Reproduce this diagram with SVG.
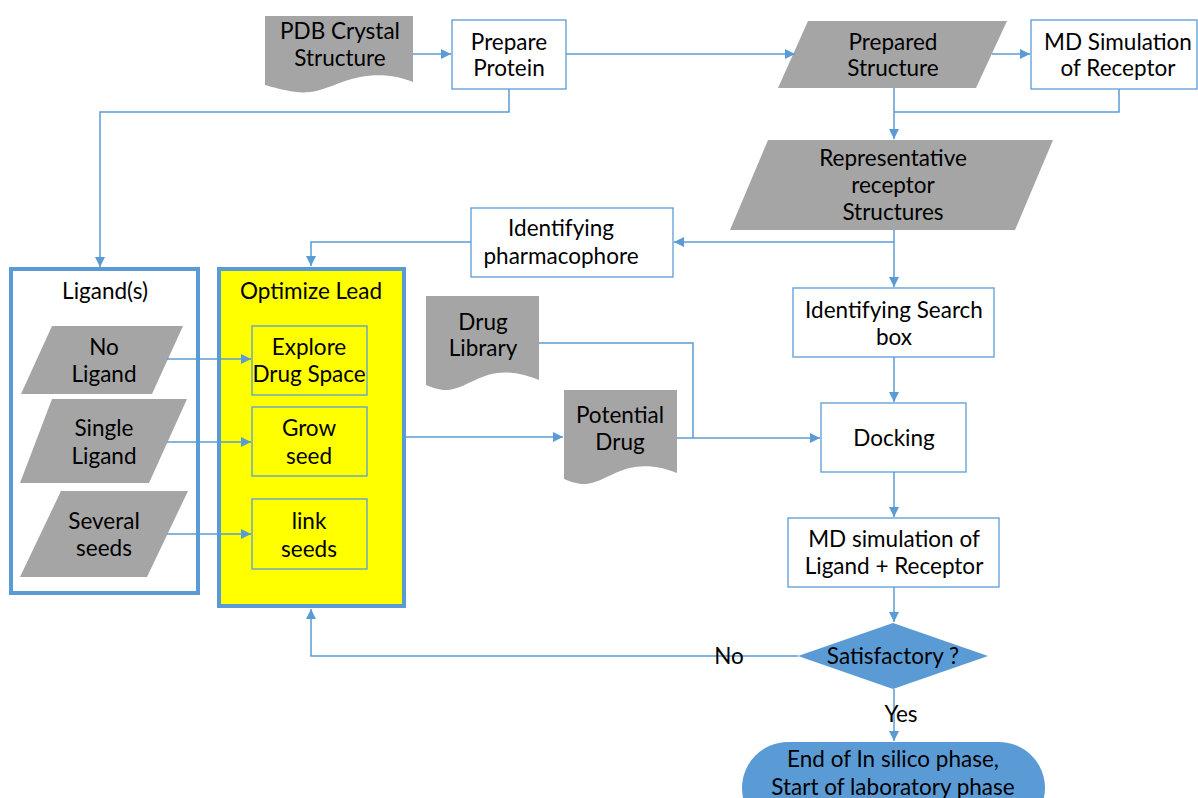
<svg xmlns="http://www.w3.org/2000/svg" width="1198" height="798" viewBox="0 0 1198 798">
  <defs>
    <marker id="arrow" viewBox="0 0 10 10" refX="10" refY="5" markerWidth="10" markerHeight="10" markerUnits="userSpaceOnUse" orient="auto">
      <path d="M0,0 L10,5 L0,10 z" fill="#5B9BD5"/>
    </marker>
    <style>
      .box { fill: #ffffff; stroke: #5B9BD5; stroke-width: 1.3; }
      .ybox { fill: #FFFF00; stroke: #5B9BD5; stroke-width: 1.3; }
      .group { stroke: #5B9BD5; stroke-width: 4; }
      .data { fill: #A5A5A5; stroke: none; }
      .blue { fill: #5B9BD5; stroke: none; }
      .conn { fill: none; stroke: #5B9BD5; stroke-width: 1.5; }
      text { font-family: "Lato", "Liberation Sans", sans-serif; font-size: 22.5px; fill: #000; text-anchor: middle; dominant-baseline: central; }
    </style>
  </defs>
  <rect width="1198" height="798" fill="#ffffff"/>

  <!-- top row -->
  <g id="pdb">
    <path class="data" d="M265,16 H413 V82 C398,76 380,73 360,77 C335,82 320,95 296,92 C282,90 272,87 265,85 Z"/>
    <text x="340" y="30">PDB Crystal</text>
    <text x="340" y="57">Structure</text>
  </g>
  <g id="prepare-protein">
    <rect class="box" x="452" y="20" width="114" height="69"/>
    <text x="509" y="41">Prepare</text>
    <text x="509" y="67">Protein</text>
  </g>
  <g id="prepared-structure">
    <path class="data" d="M808,21 H1007 L976,88 H778 Z"/>
    <text x="893" y="41">Prepared</text>
    <text x="893" y="67">Structure</text>
  </g>
  <g id="md-receptor">
    <rect class="box" x="1031" y="20" width="166" height="69"/>
    <text x="1118" y="41">MD Simulation</text>
    <text x="1118" y="67">of Receptor</text>
  </g>
  <g id="representative">
    <path class="data" d="M768,140 H1053 L1015,230 H730 Z"/>
    <text x="893" y="157">Representative</text>
    <text x="893" y="184">receptor</text>
    <text x="893" y="211">Structures</text>
  </g>
  <g id="pharmacophore">
    <rect class="box" x="471" y="208" width="202" height="69"/>
    <text x="561" y="227">Identifying</text>
    <text x="561" y="255">pharmacophore</text>
  </g>

  <!-- ligand input group -->
  <g id="ligands">
    <rect class="group" x="11" y="269" width="187" height="324" fill="#ffffff"/>
    <text x="105" y="290">Ligand(s)</text>
  </g>
  <g id="no-ligand">
    <path class="data" d="M52,326 H183 L152,394 H21 Z"/>
    <text x="104" y="346">No</text>
    <text x="104" y="373">Ligand</text>
  </g>
  <g id="single-ligand">
    <path class="data" d="M52,399 H187 L149,483 H20 Z"/>
    <text x="104" y="427">Single</text>
    <text x="104" y="455">Ligand</text>
  </g>
  <g id="several-seeds">
    <path class="data" d="M61,491 H188 L147,577 H20 Z"/>
    <text x="104" y="520">Several</text>
    <text x="104" y="547">seeds</text>
  </g>

  <!-- lead optimisation group -->
  <g id="optimize-lead">
    <rect class="group" x="219" y="269" width="185" height="337" fill="#FFFF00"/>
    <text x="311" y="290">Optimize Lead</text>
  </g>
  <g id="explore">
    <rect class="ybox" x="252" y="326" width="115" height="69"/>
    <text x="309" y="346">Explore</text>
    <text x="309" y="373">Drug Space</text>
  </g>
  <g id="grow">
    <rect class="ybox" x="252" y="407" width="115" height="69"/>
    <text x="309" y="427">Grow</text>
    <text x="309" y="455">seed</text>
  </g>
  <g id="link">
    <rect class="ybox" x="252" y="499" width="115" height="70"/>
    <text x="309" y="520">link</text>
    <text x="309" y="548">seeds</text>
  </g>

  <!-- docking chain -->
  <g id="drug-library">
    <path class="data" d="M426,296 H539 V380 C526,375 512,371 497,373 C475,376 462,391 443,390 C436,389 431,387 426,385 Z"/>
    <text x="483" y="321">Drug</text>
    <text x="483" y="347">Library</text>
  </g>
  <g id="potential-drug">
    <path class="data" d="M564,390 H677 V473 C664,468 650,465 635,467 C613,470 600,485 581,484 C574,483 569,481 564,479 Z"/>
    <text x="620" y="414">Potential</text>
    <text x="620" y="441">Drug</text>
  </g>
  <g id="search-box">
    <rect class="box" x="793" y="288" width="201" height="69"/>
    <text x="894" y="309">Identifying Search</text>
    <text x="894" y="336">box</text>
  </g>
  <g id="docking">
    <rect class="box" x="821" y="403" width="145" height="69"/>
    <text x="894" y="437">Docking</text>
  </g>
  <g id="md-complex">
    <rect class="box" x="788" y="518" width="211" height="69"/>
    <text x="894" y="538">MD simulation of</text>
    <text x="894" y="565">Ligand + Receptor</text>
  </g>
  <g id="decision">
    <path class="blue" d="M893,623 L988,656 L893,689 L798,656 Z"/>
    <text x="893" y="655">Satisfactory ?</text>
  </g>
  <g id="end">
    <rect class="blue" x="742" y="742" width="303" height="92" rx="46"/>
    <text x="893" y="758">End of In silico phase,</text>
    <text x="893" y="786">Start of laboratory phase</text>
  </g>

  <!-- connectors -->
  <g id="connectors">
    <path class="conn" d="M413,54 H451" marker-end="url(#arrow)"/>
    <path class="conn" d="M566,54 H795" marker-end="url(#arrow)"/>
    <path class="conn" d="M992,54 H1030" marker-end="url(#arrow)"/>
    <path class="conn" d="M1119,89 V112 H894"/>
    <path class="conn" d="M894,88 V139" marker-end="url(#arrow)"/>
    <path class="conn" d="M509,89 V112 H100 V267" marker-end="url(#arrow)"/>
    <path class="conn" d="M894,230 V287" marker-end="url(#arrow)"/>
    <path class="conn" d="M894,242 H674" marker-end="url(#arrow)"/>
    <path class="conn" d="M471,242 H311 V266" marker-end="url(#arrow)"/>
    <path class="conn" d="M167,359 H251" marker-end="url(#arrow)"/>
    <path class="conn" d="M167,442 H251" marker-end="url(#arrow)"/>
    <path class="conn" d="M167,534 H251" marker-end="url(#arrow)"/>
    <path class="conn" d="M406,437 H563" marker-end="url(#arrow)"/>
    <path class="conn" d="M539,343 H693 V438"/>
    <path class="conn" d="M677,438 H820" marker-end="url(#arrow)"/>
    <path class="conn" d="M894,357 V402" marker-end="url(#arrow)"/>
    <path class="conn" d="M894,472 V517" marker-end="url(#arrow)"/>
    <path class="conn" d="M894,587 V622" marker-end="url(#arrow)"/>
    <path class="conn" d="M798,656 H311 V609" marker-end="url(#arrow)"/>
    <path class="conn" d="M894,689 V741" marker-end="url(#arrow)"/>
  </g>

  <!-- branch labels -->
  <g id="labels">
    <text x="729" y="655">No</text>
    <text x="901" y="713">Yes</text>
  </g>
</svg>
